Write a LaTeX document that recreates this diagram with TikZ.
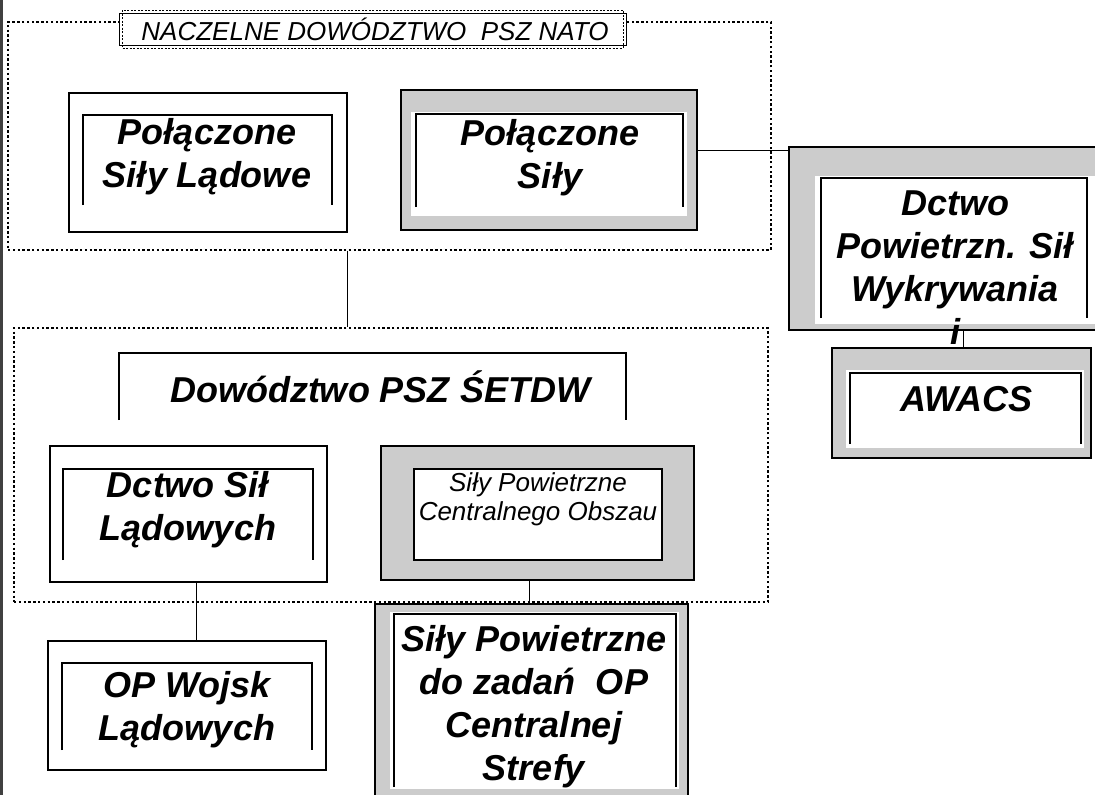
\documentclass[tikz,border=0pt]{standalone}
\usepackage{fontspec}
\setmainfont{Liberation Sans}
\usetikzlibrary{fit,calc}
\definecolor{shade}{gray}{0.80}
\tikzset{
 x=1pt,y=-1pt,
 grp/.style={draw, dash pattern=on 2.4pt off 2.4pt, line width=1.1pt, inner sep=0pt},
 pbox/.style={draw, line width=1.3pt, fill=white, inner sep=0pt},
 sbox/.style={draw, line width=1.8pt, fill=shade, inner sep=0pt},
 inframe/.style={line width=1.8pt},
 conn/.style={line width=1pt},
 bigtxt/.style={font=\fontsize{36}{43}\selectfont\bfseries\itshape, align=center, inner sep=0pt},
 midtxt/.style={font=\fontsize{26}{29}\selectfont\itshape, align=center, inner sep=0pt},
}
\begin{document}
\begin{tikzpicture}
\useasboundingbox[fill=white] (0,0) rectangle (1095,795);
\fill[black!75] (0,0) rectangle (2.5,795);
% groups
\node[grp, fit={(8,22) (771,250)}] (gtop) {};
\node[grp, fit={(14,328) (768,602)}] (gbot) {};
% NACZELNE
\node[pbox, line width=1pt, fit={(119,13) (626,45)}] (nd) {};
\draw[dash pattern=on 2pt off 1.5pt, line width=1pt] (122,10) rectangle (623,48);
\node[midtxt] (ndt) at (375,29) {NACZELNE DOWÓDZTWO\ \ PSZ NATO};
% Polaczone Sily Ladowe
\node[pbox, fit={(69,93) (347,232)}] (psl) {};
\draw[inframe] (83,205) -- (83,115) -- (332,115) -- (332,205);
\node[bigtxt] (pslt) at (207,157) {Połączone\\Siły Lądowe};
% Polaczone Sily
\node[sbox, fit={(401,90) (697,230)}] (ps) {};
\fill[white] (411,112) rectangle (687,216);
\draw[inframe] (416,207) -- (416,114) -- (683,114) -- (683,207);
\node[bigtxt] (pst) at (550,158) {Połączone\\Siły};
% Dctwo
\node[sbox, fit={(789,147) (1100,330)}] (dc) {};
\fill[white] (815,176) rectangle (1100,324);
\draw[inframe] (821,318) -- (821,178) -- (1087,178) -- (1087,318);
\node[bigtxt] (dct) at (955,268) {Dctwo\\Powietrzn. Sił\\Wykrywania\\i};
% AWACS
\node[sbox, fit={(832,348) (1091,458)}] (aw) {};
\fill[white] (846,370) rectangle (1084,448);
\draw[inframe] (850,444) -- (850,373) -- (1081,373) -- (1081,444);
\node[bigtxt] (awt) at (966,399) {AWACS};
% Dowodztwo PSZ SETDW
\draw[inframe] (119,420) -- (119,353) -- (626,353) -- (626,420);
\node[bigtxt] (dpt) at (380,387) {Dowództwo PSZ ŚETDW};
% Dctwo Sil Ladowych
\node[pbox, fit={(50,446) (327,582)}] (dsl) {};
\draw[inframe] (63,560) -- (63,469) -- (313,469) -- (313,560);
\node[bigtxt] (dslt) at (188,510) {Dctwo Sił\\Lądowych};
% Sily Powietrzne Centralnego Obszau
\node[sbox, fit={(381,446) (694,580)}] (spc) {};
\filldraw[fill=white, line width=1.3pt] (414,469) rectangle (662,560);
\node[midtxt] (spct) at (538,499) {Siły Powietrzne\\Centralnego Obszau};
% Sily Powietrzne do zadan OP
\node[sbox, fit={(375,604) (688,810)}] (spdz) {};
\fill[white] (390,612) rectangle (679,789);
\draw[inframe] (394,787) -- (394,614) -- (676,614) -- (676,787);
\node[bigtxt] (spdzt) at (534,707) {Siły Powietrzne\\do zadań\ \ OP\\Centralnej\\Strefy};
% OP Wojsk Ladowych
\node[pbox, fit={(48,641) (326,770)}] (opw) {};
\draw[inframe] (62,750) -- (62,663) -- (312,663) -- (312,750);
\node[bigtxt] (opwt) at (187,710) {OP Wojsk\\Lądowych};
% connectors
\coordinate (k1) at (347,0);
\draw[conn] (k1 |- gtop.south) -- (k1 |- gbot.north);
\coordinate (k2) at (196,0);
\draw[conn] (k2 |- dsl.south) -- (k2 |- opw.north);
\coordinate (k3) at (529,0);
\draw[conn] (k3 |- spc.south) -- (k3 |- spdz.north);
\coordinate (k4) at (963,0);
\draw[conn] (k4 |- dc.south) -- (k4 |- aw.north);
\coordinate (k5) at (0,150);
\draw[conn] (ps.east |- k5) -- (dc.west |- k5);
\end{tikzpicture}
\end{document}
